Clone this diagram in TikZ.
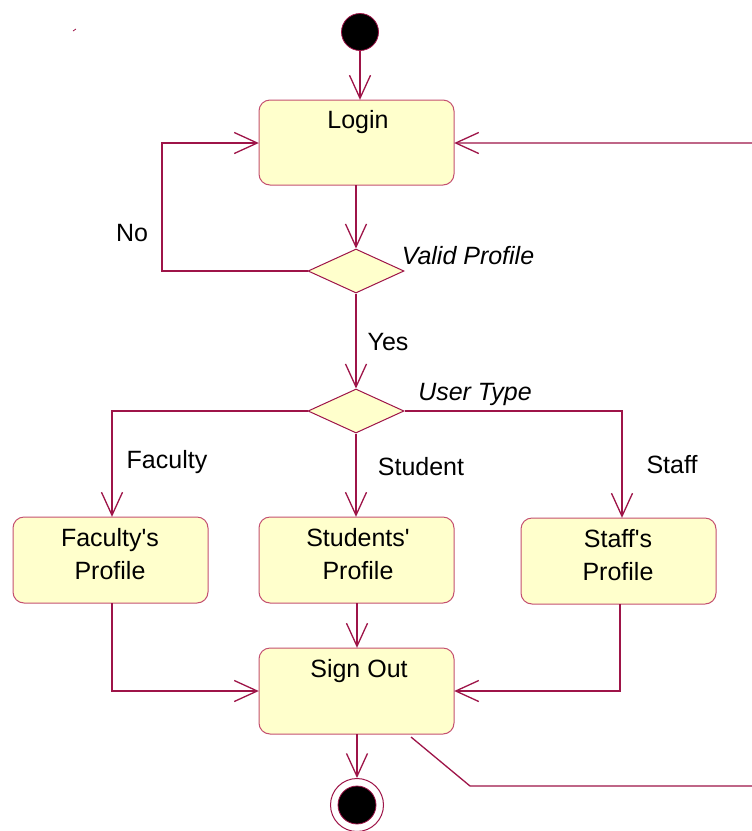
\documentclass[tikz,border=0pt]{standalone}
\usepackage{fontspec}
\setmainfont{Liberation Sans}
\usetikzlibrary{arrows.meta,shapes.geometric}
\definecolor{flow}{RGB}{158,20,72}
\definecolor{edge}{RGB}{196,80,112}
\definecolor{paper}{RGB}{255,255,204}
% straight apostrophe glyph, set directly so the TeX mapping leaves it alone
\newcommand{\apos}{\XeTeXglyph\XeTeXcharglyph"0027\relax}
\tikzset{
  flowline/.style={draw=flow,line width=1.3pt},
  tip/.style={-{Straight Barb[length=23pt,width=21pt,line width=1.3pt]}},
  activity/.style={draw=edge,fill=paper,line width=1pt,rounded corners=11pt},
  choice/.style={draw=flow,fill=paper,line width=1pt},
  txt/.style={font=\fontsize{25}{30}\selectfont,anchor=base,inner sep=0pt},
  itxt/.style={txt,font=\fontsize{25}{30}\selectfont\itshape},
}
\begin{document}
\begin{tikzpicture}[x=1pt,y=-1pt]
\clip (0,0) rectangle (752,831);
\fill[white] (0,0) rectangle (752,831);

% stray mark
\draw[flow,line width=0.8pt] (73,31) -- (76,29);

% start and end states
\node[circle,fill=black,draw=flow,line width=0.8pt,minimum size=37pt,inner sep=0pt] (start) at (360,32) {};
\node[circle,draw=flow,fill=white,line width=1pt,minimum size=53pt,inner sep=0pt] (stop) at (357,805) {};
\node[circle,fill=black,draw=flow,line width=0.8pt,minimum size=38pt,inner sep=0pt] (stopdot) at (357,805) {};

% activities
\path[activity] (259,100) rectangle (454,185);
\node[inner sep=0pt,minimum width=195pt,minimum height=85pt] (login) at (356.5,142.5) {};
\path[activity] (13,517) rectangle (208,603);
\node[inner sep=0pt,minimum width=195pt,minimum height=86pt] (faculty) at (110.5,560) {};
\path[activity] (259,517) rectangle (454,603);
\node[inner sep=0pt,minimum width=195pt,minimum height=86pt] (student) at (356.5,560) {};
\path[activity] (521,518) rectangle (716,604);
\node[inner sep=0pt,minimum width=195pt,minimum height=86pt] (staff) at (618.5,561) {};
\path[activity] (259,648) rectangle (454,734);
\node[inner sep=0pt,minimum width=195pt,minimum height=86pt] (signout) at (356.5,691) {};

\node[txt] (logint) at (358,128) {Login};
\node[txt] (facultyt1) at (110,546) {Faculty\apos s};
\node[txt] (facultyt2) at (110,579) {Profile};
\node[txt] (studentt1) at (358,546) {Students\apos};
\node[txt] (studentt2) at (358,579) {Profile};
\node[txt] (stafft1) at (618,547) {Staff\apos s};
\node[txt] (stafft2) at (618,580) {Profile};
\node[txt] (signoutt) at (359,677) {Sign Out};

% decisions
\node[choice,diamond,minimum width=96pt,minimum height=44pt,inner sep=0pt] (valid) at (356,271) {};
\node[choice,diamond,minimum width=96pt,minimum height=44pt,inner sep=0pt] (usertype) at (356,411) {};
\node[itxt] (validt) at (468,264) {Valid Profile};
\node[itxt] (usertypet) at (475,400) {User Type};

% flow
\draw[flowline,tip] (start) -- (login.north -| start);
\draw[flowline,tip] (login.south -| valid) -- (valid.north);
\draw[flowline,tip] (valid.west) -- (162,271) -- (162,143) -- (login.west |- 0,143);
\draw[flowline,tip] (valid.south) -- (usertype.north);
\draw[flowline,tip] (usertype.west) -- (112,411) -- (faculty.north -| 112,0);
\draw[flowline,tip] (usertype.south) -- (student.north -| usertype);
\draw[flowline,tip] (usertype.east) -- (622,411) -- (staff.north -| 622,0);
\draw[flowline,tip] (faculty.south -| 112,0) -- (112,691) -- (signout.west |- 0,691);
\draw[flowline,tip] (student.south -| 357,0) -- (signout.north -| 357,0);
\draw[flowline,tip] (staff.south -| 620,0) -- (620,691) -- (signout.east |- 0,691);
\draw[flowline,tip] (signout.south -| 357,0) -- (stop.north);
\draw[flowline,tip] (411,737) -- (470,786) -- (800,786) -- (800,143) -- (login.east |- 0,143);

% guards
\node[txt] (no) at (132,241) {No};
\node[txt] (yes) at (388,350) {Yes};
\node[txt] (facultyg) at (167,468) {Faculty};
\node[txt] (studentg) at (421,475) {Student};
\node[txt] (staffg) at (672,473) {Staff};
\end{tikzpicture}
\end{document}
